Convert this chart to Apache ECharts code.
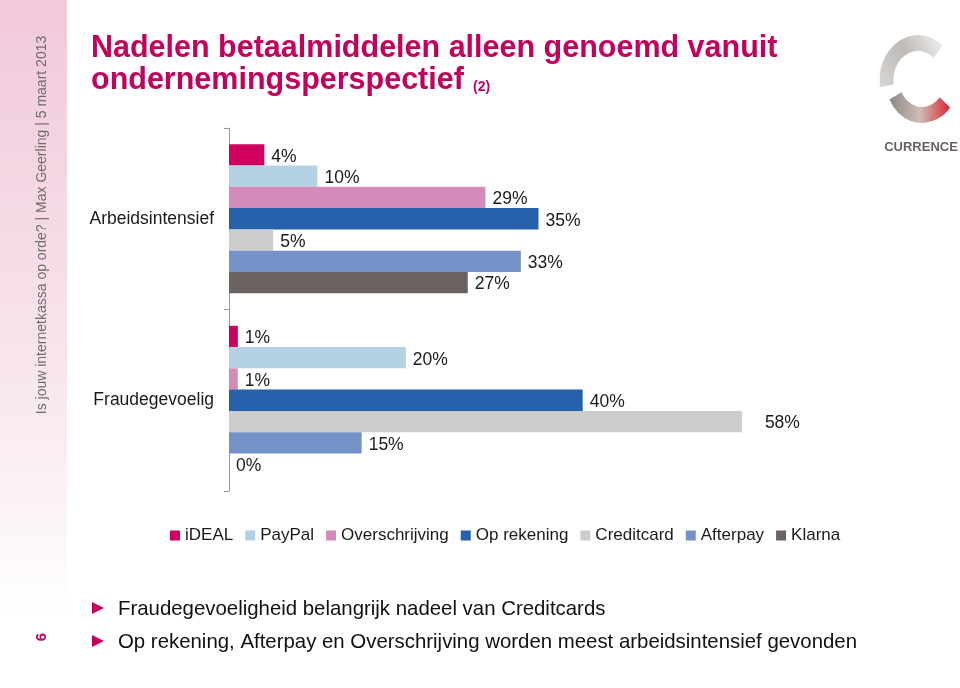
<!DOCTYPE html>
<html>
<head>
<meta charset="utf-8">
<script src="https://cdn.jsdelivr.net/npm/echarts@6/dist/echarts.min.js"></script>
<style>
html,body{margin:0;padding:0;background:#fff;}
#chart{width:960px;height:688px;}
</style>
</head>
<body>
<div id="chart"></div>
<script>
var categories = ['Arbeidsintensief', 'Fraudegevoelig'];
var seriesNames = ['iDEAL', 'PayPal', 'Overschrijving', 'Op rekening', 'Creditcard', 'Afterpay', 'Klarna'];
var iDEAL = [4, 1];
var PayPal = [10, 20];
var Overschrijving = [29, 1];
var OpRekening = [35, 40];
var Creditcard = [5, 58];
var Afterpay = [33, 15];
var Klarna = [27, 0];
var seriesColors = ['#cf0060', '#b3d3e4', '#d38bb9', '#2761ab', '#cccccc', '#7592c8', '#6a6260'];
var titleLines = ['Nadelen betaalmiddelen alleen genoemd vanuit', 'ondernemingsperspectief'];
var bullets = ['Fraudegevoeligheid belangrijk nadeel van Creditcards',
               'Op rekening, Afterpay en Overschrijving worden meest arbeidsintensief gevonden'];
var sideText = 'Is jouw internetkassa op orde? | Max Geerling | 5 maart 2013';

var allValues = [iDEAL, PayPal, Overschrijving, OpRekening, Creditcard, Afterpay, Klarna];
var FONT = 'Liberation Sans, Arial, sans-serif';
var chart = echarts.init(document.getElementById('chart'), null, {renderer: 'canvas'});

var series = seriesNames.map(function (name, i) {
  return {
    name: name,
    type: 'bar',
    barGap: '0%',
    barCategoryGap: '18%',
    itemStyle: {color: seriesColors[i]},
    label: {
      show: true, position: 'right', distance: 7, offset: [0, 2],
      formatter: '{c}%', fontFamily: FONT, fontSize: 17.5, color: '#1a1a1a'
    },
    data: allValues[i].map(function (v) {
      var item = {value: v};
      if (v >= 50) item.label = {offset: [16, 2]};
      return item;
    })
  };
});

var option = {
  animation: false,
  backgroundColor: '#ffffff',
  grid: {left: 229, top: 128, height: 363, width: 619},
  xAxis: {type: 'value', min: 0, max: 70, show: false},
  yAxis: {
    type: 'category', inverse: true, data: categories,
    axisLine: {show: true, lineStyle: {color: '#9a9a9a', width: 1}},
    axisTick: {show: true, length: 5, lineStyle: {color: '#9a9a9a'}},
    axisLabel: {fontFamily: FONT, fontSize: 17.5, color: '#1a1a1a', margin: 15}
  },
  legend: {
    left: 165, top: 522, icon: 'rect', itemWidth: 10, itemHeight: 10, itemGap: 12,
    textStyle: {fontFamily: FONT, fontSize: 17, color: '#1a1a1a'},
    data: seriesNames
  },
  series: series,
  graphic: [
    {type: 'rect', left: 0, top: 0, z: -10, shape: {width: 67, height: 688},
     style: {fill: new echarts.graphic.LinearGradient(0, 0, 0, 1, [
       {offset: 0, color: '#f1c9da'}, {offset: 0.55, color: '#f8e6ee'}, {offset: 0.9, color: '#ffffff'}, {offset: 1, color: '#ffffff'}])}},
    {type: 'text', x: 42, y: 225, rotation: Math.PI / 2,
     style: {text: sideText, font: '14px ' + FONT, fill: '#6d6d6d', textAlign: 'center', textVerticalAlign: 'middle'}},
    {type: 'text', x: 42, y: 637, rotation: Math.PI / 2,
     style: {text: '6', font: 'bold 15px ' + FONT, fill: '#c0005a', textAlign: 'center', textVerticalAlign: 'middle'}},
    {type: 'text', x: 91, y: 49,
     style: {text: titleLines[0], font: 'bold 30.5px ' + FONT, fill: '#c4005d', textVerticalAlign: 'middle'}},
    {type: 'text', x: 91, y: 81,
     style: {text: titleLines[1], font: 'bold 30.5px ' + FONT, fill: '#c4005d', textVerticalAlign: 'middle'}},
    {type: 'text', x: 473, y: 87,
     style: {text: '(2)', font: 'bold 14px ' + FONT, fill: '#c4005d', textVerticalAlign: 'middle'}},
    // logo
    {type: 'sector', originX: 918, originY: 80, scaleX: 0.85,
     shape: {cx: 918, cy: 80, r: 45, r0: 29, startAngle: -Math.PI * 0.28, endAngle: Math.PI * 0.95, clockwise: false},
     style: {fill: new echarts.graphic.LinearGradient(1, 0, 0, 1, [
       {offset: 0, color: '#f4f2f0'}, {offset: 0.5, color: '#bdbab8'}, {offset: 1, color: '#d8d6d4'}])}},
    {type: 'sector', originX: 922, originY: 80, scaleX: 0.85,
     shape: {cx: 922, cy: 80, r: 43, r0: 27, startAngle: Math.PI * 0.85, endAngle: Math.PI * 0.22, clockwise: false},
     style: {fill: new echarts.graphic.LinearGradient(0, 0, 1, 0, [
       {offset: 0, color: '#8e8884'}, {offset: 0.5, color: '#cdbdb5'}, {offset: 1, color: '#d9262c'}])}},
    {type: 'text', x: 921, y: 147,
     style: {text: 'CURRENCE', font: 'bold 13px ' + FONT, fill: '#6a6260', textAlign: 'center', textVerticalAlign: 'middle'}},
    // bullets
    {type: 'polygon', shape: {points: [[92, 602], [104, 608], [92, 614]]}, style: {fill: '#c4005d'}},
    {type: 'text', x: 118, y: 609,
     style: {text: bullets[0], font: '20.4px ' + FONT, fill: '#111', textVerticalAlign: 'middle'}},
    {type: 'polygon', shape: {points: [[92, 635], [104, 641], [92, 647]]}, style: {fill: '#c4005d'}},
    {type: 'text', x: 118, y: 642,
     style: {text: bullets[1], font: '20.4px ' + FONT, fill: '#111', textVerticalAlign: 'middle'}}
  ]
};
chart.setOption(option);
</script>
</body>
</html>
